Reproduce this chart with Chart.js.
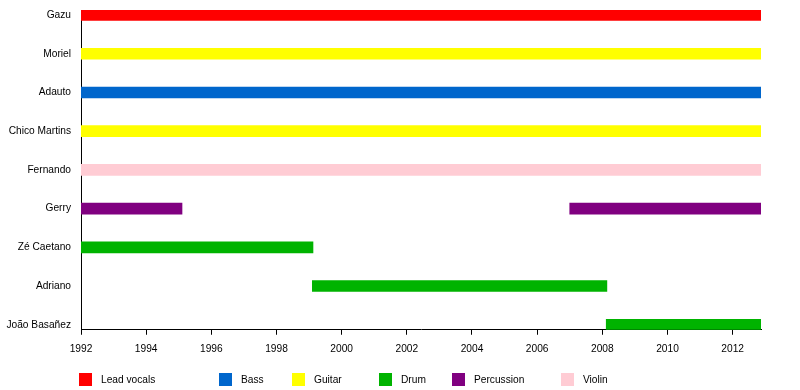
<!DOCTYPE html>
<html>
<head>
<meta charset="utf-8">
<script src="https://cdn.jsdelivr.net/npm/chart.js@4"></script>
<style>
  html, body { margin: 0; padding: 0; background: #fff; }
  #wrap { position: relative; width: 800px; height: 390px; }
  #legend { position: absolute; left: 0; top: 372px; width: 800px; height: 16px;
    font: 10.2px "Liberation Sans", Arial, sans-serif; color: #000; }
  #legend .item { position: absolute; top: 0; height: 14px; }
  #legend .box { position: absolute; left: 0; top: 1px; width: 13px; height: 13px; }
  #legend .lbl { position: absolute; left: 22px; top: 1px; white-space: nowrap; line-height: 14px; }
</style>
</head>
<body>
<div id="wrap">
  <canvas id="chart" width="800" height="390"></canvas>
  <div id="legend"></div>
</div>
<script>
  // membros (eixo y, de cima para baixo)
  const members = ['Gazu', 'Moriel', 'Adauto', 'Chico Martins', 'Fernando', 'Gerry', 'Zé Caetano', 'Adriano', 'João Basañez'];

  // funções / cores
  const roles = ['Lead vocals', 'Bass', 'Guitar', 'Drum', 'Percussion', 'Violin'];
  const roleColors = ['#ff0000', '#0066cc', '#ffff00', '#00b300', '#800080', '#ffccd4'];

  // períodos (uma barra por entrada)
  const END = 2012.87;
  const barMember = ['Gazu', 'Moriel', 'Adauto', 'Chico Martins', 'Fernando', 'Gerry', 'Gerry', 'Zé Caetano', 'Adriano', 'João Basañez'];
  const barRole   = ['Lead vocals', 'Guitar', 'Bass', 'Guitar', 'Violin', 'Percussion', 'Percussion', 'Drum', 'Drum', 'Drum'];
  const barStart  = [1992, 1992, 1992, 1992, 1992, 1992, 2007.0, 1992, 1999.1, 2008.12];
  const barEnd    = [END, END, END, END, END, 1995.1, END, 1999.12, 2008.14, END];

  const font = { family: '"Liberation Sans", Arial, sans-serif', size: 10.2 };

  const datasets = barMember.map((m, i) => {
    const color = roleColors[roles.indexOf(barRole[i])];
    return {
      label: barRole[i],
      data: [{ x: [barStart[i], barEnd[i]], y: members.indexOf(m) }],
      backgroundColor: color,
      borderWidth: 0,
      barThickness: 11,
      grouped: false
    };
  });

  new Chart(document.getElementById('chart'), {
    type: 'bar',
    data: { datasets },
    options: {
      indexAxis: 'y',
      responsive: false,
      animation: false,
      layout: { padding: { top: 10, right: 39, bottom: 27, left: 0 } },
      plugins: { legend: { display: false }, tooltip: { enabled: false } },
      scales: {
        x: {
          type: 'linear',
          min: 1992,
          max: END,
          grid: { drawOnChartArea: false, drawTicks: true, tickLength: 5, color: '#000' },
          border: { display: true, color: '#000', width: 1 },
          ticks: {
            stepSize: 2,
            includeBounds: false,
            color: '#000',
            padding: 8,
            font,
            maxRotation: 0,
            callback: v => String(v)
          }
        },
        y: {
          type: 'linear',
          reverse: true,
          offset: false,
          min: -0.13,
          max: 8.13,
          afterBuildTicks: s => { s.ticks = members.map((_, i) => ({ value: i })); },
          afterFit: s => { s.width = 81; s.paddingTop = 0; s.paddingBottom = 0; },
          grid: { display: false, drawTicks: false, tickLength: 0 },
          border: { display: true, color: '#000', width: 1 },
          ticks: {
            color: '#000',
            padding: 10,
            font,
            callback: v => members[v] ?? ''
          }
        }
      }
    }
  });

  // legenda (posições das colunas como no original)
  const legendX = [79, 219, 292, 379, 452, 561];
  const legend = document.getElementById('legend');
  roles.forEach((r, i) => {
    const item = document.createElement('div');
    item.className = 'item';
    item.style.left = legendX[i] + 'px';
    item.innerHTML = `<span class="box" style="background:${roleColors[i]}"></span><span class="lbl">${r}</span>`;
    legend.appendChild(item);
  });
</script>
</body>
</html>
